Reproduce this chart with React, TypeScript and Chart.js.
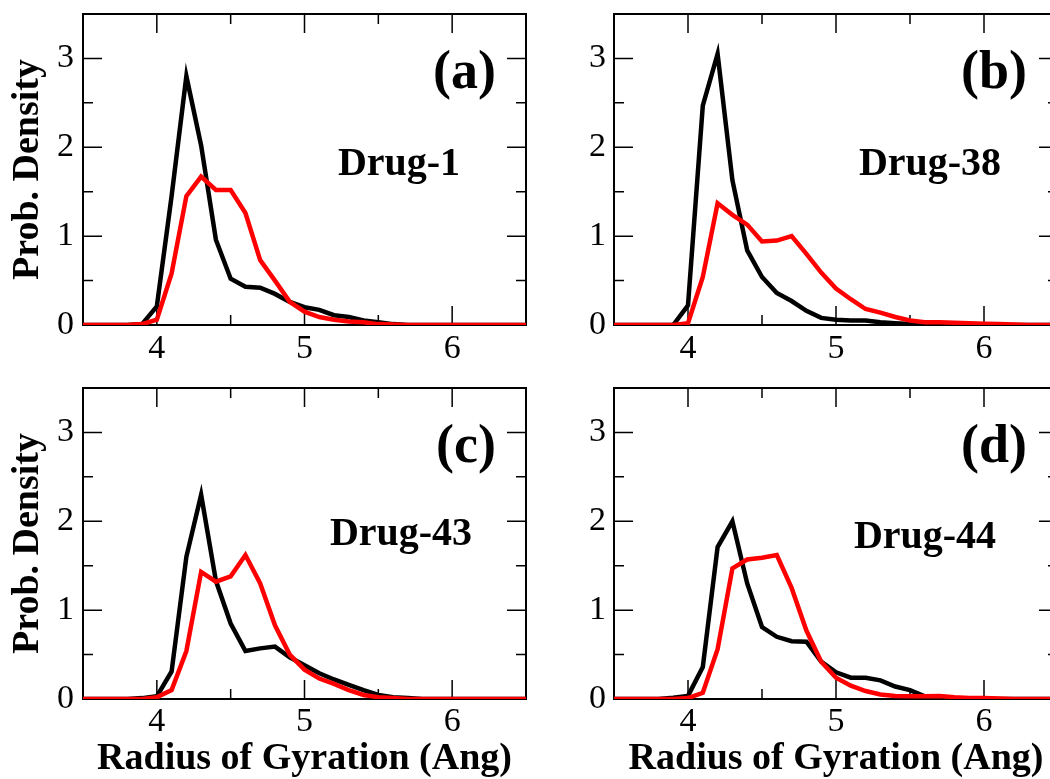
import { useEffect, useRef } from "react";
import { Chart, registerables } from "chart.js";

Chart.register(...registerables);

// Radius-of-gyration bin centres (Ang)
const rgBins = [
  3.5, 3.6, 3.7, 3.8, 3.9, 4.0, 4.1, 4.2, 4.3, 4.4, 4.5, 4.6, 4.7, 4.8, 4.9, 5.0,
  5.1, 5.2, 5.3, 5.4, 5.5, 5.6, 5.7, 5.8, 5.9, 6.0, 6.1, 6.2, 6.3, 6.4, 6.5,
];

// Probability densities, one black and one red curve per drug
const drug1Black = [
  0, 0, 0, 0, 0.01, 0.21, 1.45, 2.8, 2.02, 0.96, 0.52, 0.43, 0.42, 0.35, 0.26, 0.2,
  0.17, 0.11, 0.09, 0.05, 0.03, 0.01, 0, 0, 0, 0, 0, 0, 0, 0, 0,
];
const drug1Red = [
  0, 0, 0, 0, 0.01, 0.06, 0.58, 1.45, 1.67, 1.52, 1.52, 1.26, 0.73, 0.5, 0.26, 0.15,
  0.09, 0.06, 0.04, 0.03, 0.01, 0.005, 0, 0, 0, 0, 0, 0, 0, 0, 0,
];
const drug38Black = [
  0, 0, 0, 0, 0, 0.22, 2.47, 3.05, 1.63, 0.84, 0.54, 0.36, 0.27, 0.16, 0.08, 0.06,
  0.05, 0.05, 0.03, 0.02, 0.01, 0.005, 0, 0, 0, 0, 0, 0, 0, 0, 0,
];
const drug38Red = [
  0, 0, 0, 0, 0, 0.02, 0.54, 1.37, 1.24, 1.13, 0.94, 0.95, 1.0, 0.8, 0.59, 0.41,
  0.29, 0.18, 0.14, 0.09, 0.05, 0.03, 0.03, 0.025, 0.02, 0.015, 0.01, 0.005, 0, 0, 0,
];
const drug43Black = [
  0, 0, 0, 0, 0.01, 0.03, 0.31, 1.6, 2.3, 1.33, 0.85, 0.54, 0.57, 0.59, 0.47, 0.38,
  0.29, 0.22, 0.16, 0.1, 0.045, 0.02, 0.01, 0, 0, 0, 0, 0, 0, 0, 0,
];
const drug43Red = [
  0, 0, 0, 0, 0, 0.02, 0.1, 0.54, 1.43, 1.32, 1.38, 1.62, 1.3, 0.83, 0.5, 0.33,
  0.23, 0.17, 0.1, 0.045, 0.02, 0.01, 0, 0, 0, 0, 0, 0, 0, 0, 0,
];
const drug44Black = [
  0, 0, 0, 0, 0.015, 0.035, 0.36, 1.71, 2.0, 1.3, 0.81, 0.7, 0.65, 0.645, 0.42, 0.3,
  0.24, 0.24, 0.21, 0.14, 0.1, 0.03, 0.01, 0, 0, 0, 0, 0, 0, 0, 0,
];
const drug44Red = [
  0, 0, 0, 0, 0, 0.01, 0.07, 0.56, 1.47, 1.57, 1.59, 1.62, 1.25, 0.77, 0.42, 0.24,
  0.15, 0.09, 0.05, 0.035, 0.03, 0.03, 0.035, 0.02, 0.01, 0.01, 0.005, 0, 0, 0, 0,
];

// Axis ticks and text
const xMajorTicks = [4, 5, 6];
const xMinorTicks = [4.5, 5.5];
const yMajorTicks = [0, 1, 2, 3];
const yMinorTicks = [0.5, 1.5, 2.5];
const panelTags = ["(a)", "(b)", "(c)", "(d)"];
const drugNames = ["Drug-1", "Drug-38", "Drug-43", "Drug-44"];
const xAxisTitle = "Radius of Gyration (Ang)";
const yAxisTitle = "Prob. Density";

const blackSeries = [drug1Black, drug38Black, drug43Black, drug44Black];
const redSeries = [drug1Red, drug38Red, drug43Red, drug44Red];

const X_MIN = 3.5;
const X_MAX = 6.5;
const Y_MIN = 0;
const Y_MAX = 3.5;

const SERIF = "'Liberation Serif', 'Times New Roman', Times, serif";

type PanelLayout = {
  left: number;
  top: number;
  width: number;
  height: number;
  yAxisWidth: number;
  xAxisHeight: number;
  padTop: number;
  padRight: number;
  showYTitle: boolean;
  showXTitle: boolean;
  xLabelPad: number;
  yLabelPad: number;
  nameCx: number;
  nameBase: number;
};

const PANELS: PanelLayout[] = [
  { left: 0, top: 0, width: 540, height: 380, yAxisWidth: 83, xAxisHeight: 55, padTop: 14, padRight: 14, showYTitle: true, showXTitle: false, xLabelPad: 4, yLabelPad: 9, nameCx: 316, nameBase: 161 },
  { left: 540, top: 0, width: 530, height: 380, yAxisWidth: 74, xAxisHeight: 55, padTop: 14, padRight: 12, showYTitle: false, showXTitle: false, xLabelPad: 4, yLabelPad: 8, nameCx: 316, nameBase: 161 },
  { left: 0, top: 380, width: 540, height: 399, yAxisWidth: 83, xAxisHeight: 80, padTop: 8, padRight: 14, showYTitle: true, showXTitle: true, xLabelPad: 3, yLabelPad: 9, nameCx: 318, nameBase: 157 },
  { left: 540, top: 380, width: 530, height: 399, yAxisWidth: 74, xAxisHeight: 80, padTop: 8, padRight: 12, showYTitle: false, showXTitle: true, xLabelPad: 3, yLabelPad: 8, nameCx: 311, nameBase: 160 },
];

// Frame with inward major/minor ticks on all four sides, plus panel captions
const framePlugin = {
  id: "gracestyleFrame",
  beforeDatasetsDraw(chart: any) {
    const { ctx, chartArea: a, scales } = chart;
    const xs = scales.x;
    const ys = scales.y;
    ctx.save();
    ctx.strokeStyle = "#000";
    ctx.lineWidth = 1.5;
    ctx.beginPath();
    const xTick = (v: number, len: number) => {
      const p = xs.getPixelForValue(v);
      ctx.moveTo(p, a.bottom);
      ctx.lineTo(p, a.bottom - len);
      ctx.moveTo(p, a.top);
      ctx.lineTo(p, a.top + len);
    };
    const yTick = (v: number, len: number) => {
      const p = ys.getPixelForValue(v);
      ctx.moveTo(a.left, p);
      ctx.lineTo(a.left + len, p);
      ctx.moveTo(a.right, p);
      ctx.lineTo(a.right - len, p);
    };
    xMajorTicks.forEach((v) => xTick(v, 19));
    xMinorTicks.forEach((v) => xTick(v, 10));
    yMajorTicks.forEach((v) => v > Y_MIN && yTick(v, 19));
    yMinorTicks.forEach((v) => yTick(v, 10));
    ctx.stroke();
    ctx.lineWidth = 2;
    ctx.strokeRect(a.left, a.top, a.right - a.left, a.bottom - a.top);
    ctx.restore();
  },
  afterDraw(chart: any, _args: any, opts: any) {
    const { ctx, chartArea: a } = chart;
    ctx.save();
    ctx.fillStyle = "#000";
    ctx.textBaseline = "alphabetic";
    ctx.font = `bold 54px ${SERIF}`;
    ctx.textAlign = "right";
    ctx.fillText(opts.tag, a.left + 413, a.top + 74);
    ctx.font = `bold 40px ${SERIF}`;
    ctx.textAlign = "center";
    ctx.fillText(opts.name, a.left + opts.nameCx, a.top + opts.nameBase);
    ctx.restore();
  },
};

function Panel({ index }: { index: number }) {
  const ref = useRef<HTMLCanvasElement>(null);
  const lay = PANELS[index];

  useEffect(() => {
    if (!ref.current) return;
    const toPoints = (vals: number[]) => rgBins.map((x, i) => ({ x, y: vals[i] }));
    const fixPadding = (s: any) => {
      s.paddingTop = 0;
      s.paddingBottom = 0;
      s.paddingLeft = 0;
      s.paddingRight = 0;
    };
    const chart = new Chart(ref.current, {
      type: "line",
      data: {
        datasets: [
          {
            label: "red",
            data: toPoints(redSeries[index]),
            borderColor: "#ff0000",
            borderWidth: 4.5,
            pointRadius: 0,
            tension: 0,
            borderJoinStyle: "miter",
            fill: false,
          },
          {
            label: "black",
            data: toPoints(blackSeries[index]),
            borderColor: "#000000",
            borderWidth: 4.5,
            pointRadius: 0,
            tension: 0,
            borderJoinStyle: "miter",
            fill: false,
          },
        ],
      },
      options: {
        responsive: false,
        maintainAspectRatio: false,
        animation: false,
        devicePixelRatio: 1,
        events: [],
        layout: { padding: { top: lay.padTop, right: lay.padRight, left: 0, bottom: 0 } },
        plugins: {
          legend: { display: false },
          tooltip: { enabled: false },
          gracestyleFrame: { tag: panelTags[index], name: drugNames[index], nameCx: lay.nameCx, nameBase: lay.nameBase },
        } as any,
        scales: {
          x: {
            type: "linear",
            min: X_MIN,
            max: X_MAX,
            bounds: "data",
            afterBuildTicks: (s: any) => {
              s.ticks = xMajorTicks.map((value) => ({ value }));
            },
            afterFit: (s: any) => {
              s.height = lay.xAxisHeight;
              fixPadding(s);
            },
            grid: { display: false, drawTicks: false },
            border: { display: false },
            ticks: {
              autoSkip: false,
              maxRotation: 0,
              padding: lay.xLabelPad,
              color: "#000",
              font: { family: SERIF, size: 34, lineHeight: 1.2 },
              callback: (v: any) => String(v),
            },
            title: {
              display: lay.showXTitle,
              text: xAxisTitle,
              color: "#000",
              font: { family: SERIF, size: 38, weight: "bold", lineHeight: 1.05 },
              padding: { top: 0, bottom: 0 },
            },
          },
          y: {
            type: "linear",
            min: Y_MIN,
            max: Y_MAX,
            bounds: "data",
            afterBuildTicks: (s: any) => {
              s.ticks = yMajorTicks.map((value) => ({ value }));
            },
            afterFit: (s: any) => {
              s.width = lay.yAxisWidth;
              fixPadding(s);
            },
            grid: { display: false, drawTicks: false },
            border: { display: false },
            ticks: {
              autoSkip: false,
              padding: lay.yLabelPad,
              color: "#000",
              font: { family: SERIF, size: 34, lineHeight: 1.2 },
              callback: (v: any) => String(v),
            },
            title: {
              display: lay.showYTitle,
              text: yAxisTitle,
              color: "#000",
              font: { family: SERIF, size: 38, weight: "bold", lineHeight: 1.2 },
              padding: { top: 5, bottom: 0 },
            },
          },
        },
      } as any,
      plugins: [framePlugin],
    });
    return () => chart.destroy();
  }, [index]);

  return (
    <canvas
      ref={ref}
      width={lay.width}
      height={lay.height}
      style={{ position: "absolute", left: lay.left, top: lay.top, width: lay.width, height: lay.height }}
    />
  );
}

export default function App() {
  return (
    <div
      style={{
        position: "fixed",
        left: 0,
        top: 0,
        width: 1050,
        height: 779,
        overflow: "hidden",
        background: "#fff",
      }}
    >
      {PANELS.map((_, i) => (
        <Panel key={i} index={i} />
      ))}
    </div>
  );
}
